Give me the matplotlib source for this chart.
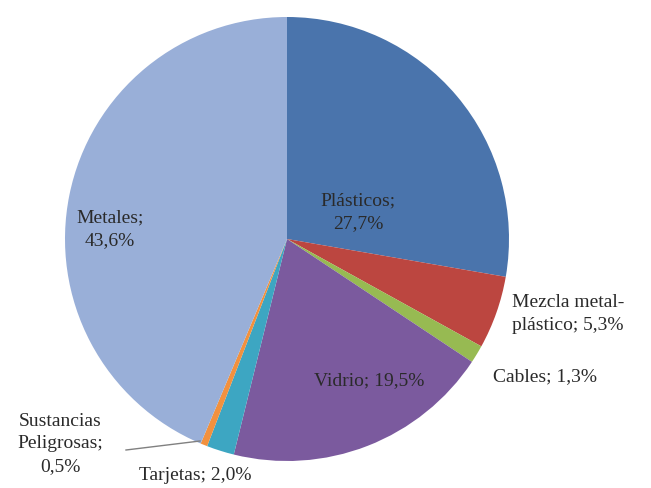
import matplotlib.pyplot as plt

# composición de residuos (%)
categorias = ["Plásticos", "Mezcla metal-plástico", "Cables", "Vidrio",
              "Tarjetas", "Sustancias Peligrosas", "Metales"]
valores = [27.7, 5.3, 1.3, 19.5, 2.0, 0.5, 43.6]
etiquetas = ["Plásticos;\n27,7%", "Mezcla metal-\nplástico; 5,3%", "Cables; 1,3%",
             "Vidrio; 19,5%", "Tarjetas; 2,0%", "Sustancias\nPeligrosas;\n0,5%",
             "Metales;\n43,6%"]
colores = ["#4A74AC", "#BC4640", "#97BA52", "#7B5A9E", "#3DA6C2", "#F2913E", "#99AFD8"]

# posiciones de las etiquetas en píxeles (x, y desde arriba)
pos_etiquetas = [(358, 212), (568, 314), (545, 377), (369, 381),
                 (195, 476), (60, 444), (110, 229)]

plt.rcParams["font.family"] = ["Liberation Serif", "DejaVu Serif"]

W, H = 651, 489
fig = plt.figure(figsize=(W / 100, H / 100), dpi=100)
ax = fig.add_axes([0, 0, 1, 1])

# eje y invertido: startangle=-90 apunta arriba y counterclock=True gira en sentido horario
ax.pie(valores, colors=colores, startangle=-90, counterclock=True,
       center=(287, 240), radius=222, frame=True,
       wedgeprops=dict(linewidth=0))
ax.set_xlim(0, W)
ax.set_ylim(H, 0)
ax.set_aspect("equal")
ax.axis("off")

for (x, y), txt in zip(pos_etiquetas, etiquetas):
    ax.text(x, y, txt, ha="center", va="center", fontsize=14,
            color="#2a2a2a", linespacing=1.4)

# línea guía para Sustancias Peligrosas
ax.plot([126, 200], [451, 442], color="#808080", lw=1)

fig.savefig("out.png", dpi=100)
